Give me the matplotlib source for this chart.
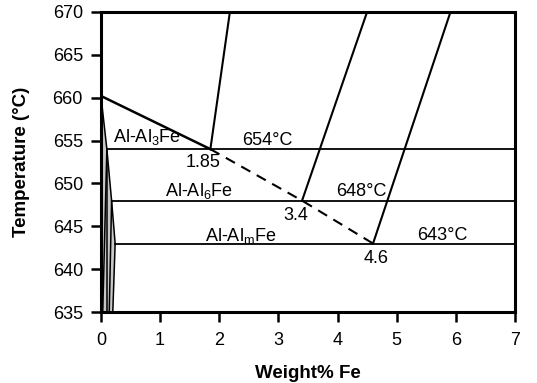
import matplotlib
matplotlib.use('Agg')
import matplotlib.pyplot as plt

plt.rcParams['font.family'] = ['Liberation Sans', 'DejaVu Sans']
plt.rcParams['mathtext.fontset'] = 'custom'
plt.rcParams['mathtext.rm'] = 'Liberation Sans'

# Eutectic temperatures and compositions
eut_temps = [654, 648, 643]
eut_comp = [1.85, 3.4, 4.6]
eut_start = [0.1, 0.18, 0.24]

# Al liquidus from pure Al to the stable eutectic
liq_x = [0, 1.85]
liq_y = [660.2, 654]

# Metastable extension of the liquidus (dashed)
dash_x = [1.85, 3.4, 4.6]
dash_y = [654, 648, 643]

# Intermetallic liquidus lines rising from each eutectic point
inter_x = [[1.85, 2.18], [3.4, 4.5], [4.6, 5.91]]
inter_y = [[654, 670], [648, 670], [643, 670]]

# Solid solubility lines near pure Al
solv_x = [[0, 0.1, 0.18, 0.24, 0.2], [0.1, 0.03], [0.1, 0.1], [0.18, 0.14]]
solv_y = [[660.2, 654, 648, 643, 635], [654, 635], [654, 635], [648, 635]]

fig, ax = plt.subplots(figsize=(5.37, 3.83), dpi=100)
fig.subplots_adjust(left=0.188, right=0.959, bottom=0.185, top=0.969)

ax.fill(solv_x[0] + [0], solv_y[0] + [635], color='#c8c8c8', lw=0)
for sx, sy in zip(solv_x, solv_y):
    ax.plot(sx, sy, color='black', lw=1.1)

ax.plot(liq_x, liq_y, color='black', lw=1.8)
ax.plot(dash_x, dash_y, color='black', lw=1.5, ls=(0, (5, 3.5)))
for ix, iy in zip(inter_x, inter_y):
    ax.plot(ix, iy, color='black', lw=1.5)
for t, x0 in zip(eut_temps, eut_start):
    ax.plot([x0, 7], [t, t], color='black', lw=1.3)

fs = 13
ax.text(0.2, 654.2, r'Al-Al$_{\mathregular{3}}$Fe', fontsize=fs, va='bottom')
ax.text(2.82, 655.05, '654°C', fontsize=fs, ha='center', va='center')
ax.text(1.72, 652.4, '1.85', fontsize=fs, ha='center', va='center')
ax.text(1.66, 649.1, r'Al-Al$_{\mathregular{6}}$Fe', fontsize=fs, ha='center', va='center')
ax.text(4.40, 649.1, '648°C', fontsize=fs, ha='center', va='center')
ax.text(3.3, 646.3, '3.4', fontsize=fs, ha='center', va='center')
ax.text(2.37, 643.9, r'Al-Al$_{\mathregular{m}}$Fe', fontsize=fs, ha='center', va='center')
ax.text(5.77, 643.95, '643°C', fontsize=fs, ha='center', va='center')
ax.text(4.65, 641.3, '4.6', fontsize=fs, ha='center', va='center')

ax.set_xlim(0, 7)
ax.set_ylim(635, 670)
ax.set_xticks(range(0, 8))
ax.set_yticks(range(635, 671, 5))
ax.tick_params(direction='out', length=7, width=1.8, labelsize=13)
ax.tick_params(axis='x', pad=7)
ax.tick_params(axis='y', pad=6)
for s in ax.spines.values():
    s.set_linewidth(2.2)

ax.set_xlabel('Weight% Fe', fontsize=13.5, fontweight='bold', labelpad=12)
ax.set_ylabel('Temperature (°C)', fontsize=13.5, fontweight='bold', labelpad=16)

fig.savefig('out.png', dpi=100)
